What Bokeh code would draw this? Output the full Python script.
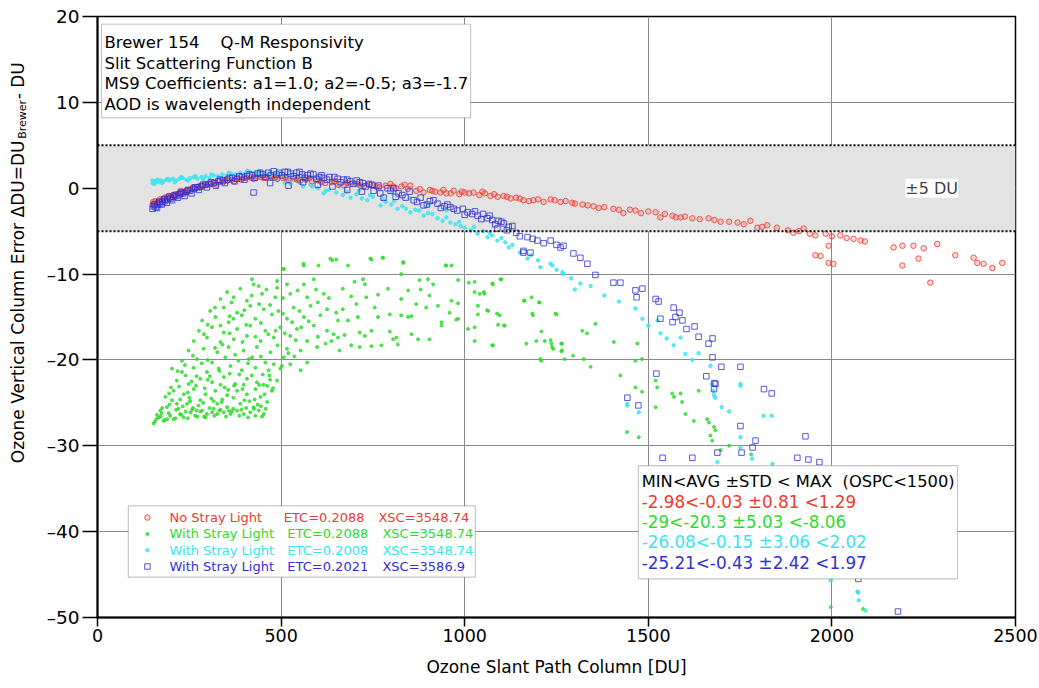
import math
from bokeh.plotting import figure
from bokeh.layouts import row
from bokeh.models import Range1d, BoxAnnotation, Label, Span, FixedTicker
from bokeh.embed import file_html
from bokeh.resources import INLINE

# ---- axis ticks ----
x_ticks = [0, 500, 1000, 1500, 2000, 2500]
y_ticks = [-50, -40, -30, -20, -10, 0, 10, 20]
band_half_width = 5  # +/- 5 DU tolerance band

# ---- series: No Stray Light (ETC=0.2088, XSC=3548.74) ----
red_x = [150, 152, 158, 163, 170, 176, 183, 190, 197, 205, 213, 221, 230, 238, 247, 256, 265, 275, 285, 296,
         307, 318, 330, 342, 354, 366, 379, 392, 405, 418, 432, 446, 460, 475, 490, 505, 520, 536, 552, 568,
         585, 602, 620, 638, 656, 672, 690, 708, 725, 740, 752, 768, 785, 798, 812, 828, 845, 852, 868, 888,
         905, 920, 934, 950, 970, 985, 1000, 1024, 1040, 1055, 1070, 1090, 1106, 1125, 1140,
         155, 167, 180, 194, 209, 226, 243, 260, 280, 300, 324, 348, 372, 398, 425, 453, 482, 512, 544, 577,
         610, 646, 680, 716, 760, 805, 836, 878, 912, 942, 962, 992, 1012, 1048, 1080, 1115, 1150,
         1160, 1175, 1187, 1200, 1215, 1234, 1245, 1261, 1275, 1293, 1300, 1321, 1335, 1351, 1365, 1380,
         1405, 1420, 1432, 1450, 1465, 1480, 1500, 1520, 1533, 1545, 1566, 1575, 1588, 1600, 1620, 1640,
         1664, 1680, 1697, 1720, 1743, 1760, 1778, 1797, 1810, 1824, 1850, 1880, 1895, 1910, 1923, 1940,
         1955, 1955, 1969, 1983, 1991, 1991, 2000, 2004, 2023, 2040, 2059, 2078, 2090, 2168, 2192, 2192,
         2222, 2236, 2250, 2268, 2287, 2336, 2386, 2396, 2413, 2437, 2464]
red_y = [-1.9, -1.6, -1.5, -1.7, -1.3, -1.4, -1.1, -1.0, -1.2, -0.8, -0.7, -0.6, -0.4, -0.5, -0.2, -0.1, 0.0, 0.2, 0.3, 0.4,
         0.5, 0.6, 0.8, 0.7, 0.9, 1.0, 1.1, 1.0, 1.2, 1.25, 1.2, 1.29, 1.2, 1.25, 1.1, 1.2, 1.0, 1.1, 0.9, 1.0,
         0.8, 0.9, 0.6, 0.7, 0.4, 0.3, 0.5, 0.5, 0.2, 0.4, 0.3, 0.1, 0.3, 0.5, 0.0, 0.2, -0.1, 0.3, -0.3, -0.5,
         -0.2, -0.4, -0.5, -0.6, -0.3, -0.7, -0.5, -0.5, -0.8, -0.6, -0.9, -1.0, -0.9, -1.2, -1.1,
         -1.8, -1.5, -1.2, -0.9, -0.9, -0.3, -0.3, 0.1, 0.1, 0.5, 0.4, 0.9, 0.8, 1.2, 1.1, 1.2, 1.2, 1.25, 1.0, 1.15,
         0.7, 0.8, 0.6, 0.3, 0.2, 0.2, 0.4, -0.1, -0.3, -0.2, -0.6, -0.4, -0.6, -0.4, -0.7, -1.0, -1.2,
         -1.4, -1.5, -1.4, -1.3, -1.6, -1.3, -1.4, -1.6, -1.5, -1.7, -1.8, -1.9, -2.0, -2.1, -2.3, -2.2,
         -2.4, -2.5, -2.9, -2.5, -2.6, -2.9, -2.7, -2.8, -3.4, -3.0, -3.2, -3.4, -3.4, -3.3, -3.5, -3.6,
         -3.5, -3.7, -3.9, -3.9, -4.0, -4.2, -3.8, -4.6, -4.5, -4.3, -4.6, -4.9, -5.2, -5.0, -4.7, -5.3,
         -5.5, -7.8, -7.9, -5.3, -6.7, -8.7, -5.6, -8.8, -5.5, -5.8, -5.9, -6.1, -6.2, -6.9, -6.7, -9.0,
         -6.7, -8.2, -7.0, -11.0, -6.5, -7.8, -8.1, -8.7, -8.8, -9.3, -8.7]

# ---- series: With Stray Light (ETC=0.2088, XSC=3548.74) ----
green_x = [153, 167, 180, 198, 207, 225, 235, 253, 266, 285, 298, 312, 326, 344, 362, 380, 398, 416, 439, 453,
           171, 189, 216, 185, 203, 244, 275, 326, 353, 389, 425, 462, 207, 235, 262, 294, 321, 353, 380, 407,
           444, 475, 216, 248, 280, 312, 344, 375, 407, 434, 462, 489, 203, 230, 262, 298, 330, 362, 393, 430,
           466, 498, 525, 553, 230, 271, 312, 348, 384, 421, 457, 507, 571, 248, 289, 326, 357, 398, 434, 471,
           516, 553, 598, 262, 298, 335, 371, 407, 444, 480, 525, 571, 621, 643, 276, 312, 344, 380, 416, 457,
           498, 543, 589, 625, 285, 321, 357, 393, 430, 475, 516, 562, 607, 307, 344, 380, 416, 453, 493, 534,
           580, 625, 335, 371, 407, 448, 484, 525, 571, 616, 353, 389, 425, 439, 489, 516, 562, 589, 421, 489,
           507, 562, 602, 639,
           160, 175, 190, 220, 240, 260, 290, 305, 335, 370, 405, 430, 445, 195, 225, 250, 280, 310, 340, 370,
           400, 430, 455, 470, 240, 270, 300, 335, 360, 395, 420, 450, 480, 520, 260, 300, 340, 375, 410, 445,
           490, 540, 290, 320, 360, 395, 430, 465, 510, 555, 600, 300, 335, 370, 405, 445, 485, 530, 575, 320,
           360, 400, 440, 470, 505, 550, 600, 365, 420, 460, 505, 545, 595, 630,
           156, 162, 172, 183, 194, 212, 228, 246, 258, 272, 280, 294, 318, 332, 350, 366, 386, 410, 426, 448,
           176, 196, 214, 232, 252, 270, 288, 316, 338, 358, 392, 414, 436, 458, 200, 222, 246, 268, 292, 316,
           346, 372, 398, 428, 452, 478, 218, 238, 256, 284, 306, 332, 356, 386, 412, 440, 468, 502, 536,
           650, 682, 746, 778, 832, 950, 964, 700, 728, 668, 723, 791, 827, 877, 900, 914, 982, 1011, 1027, 1100,
           1077, 691, 732, 764, 846, 880, 904, 1027, 1041, 1054, 650, 668, 705, 755, 827, 868, 895, 927, 964, 982,
           959, 1036, 1064, 1163, 1182, 1204, 655, 682, 709, 764, 796, 827, 846, 855, 937, 982, 1036, 1095, 1186,
           1250, 637, 655, 673, 714, 728, 746, 796, 814, 855, 873, 904, 937, 977, 1009, 1027, 1091, 1109, 1209,
           691, 714, 746, 773, 805, 818, 659, 1027, 1077, 1168, 1195, 1218, 1236, 1263, 1241, 1263, 1295, 1209,
           1272, 507, 561, 634, 743, 776, 833, 948,
           1052, 1075, 1097, 1061, 1088, 1107, 1075, 1161, 1184, 1202, 1247, 1234, 1238, 1265, 1265, 1206, 1320,
           1333, 1324, 1343, 1356, 1406, 1424, 1470, 1465, 1483, 1465, 1483, 1442, 1474, 1520, 1524, 1520, 1565,
           1588, 1570, 1592, 1601, 1624, 1637, 1660, 1665, 1679, 1683, 1669, 1674, 1697, 1720, 1750, 1780, 1820,
           1850, 1900, 1960, 1997, 2040, 2070, 2085]
green_y = [-27.4, -26.7, -27.1, -26.5, -26.9, -26.3, -26.7, -26.1, -26.5, -25.9, -26.3, -26.1, -26.3, -26.1, -26.3, -25.9, -26.3, -26.1, -25.9, -26.3,
           -25.9, -25.5, -25.1, -24.3, -24.7, -25.1, -25.3, -25.1, -25.5, -25.1, -25.5, -24.9, -23.6, -24.0, -23.4, -24.0, -23.6, -24.1, -23.6, -24.0,
           -24.3, -23.6, -22.4, -22.8, -22.2, -22.6, -22.0, -22.8, -22.2, -22.6, -23.0, -22.4, -21.0, -21.4, -20.9, -21.4, -21.0, -20.7, -21.2, -20.9,
           -21.2, -21.0, -20.5, -21.2, -20.1, -19.9, -20.3, -19.7, -20.1, -19.7, -20.3, -19.7, -20.3, -18.9, -18.7, -19.1, -18.5, -18.9, -18.5, -19.1,
           -18.7, -18.9, -18.5, -17.8, -17.4, -17.9, -17.6, -17.2, -17.8, -17.4, -17.2, -17.8, -18.1, -17.0, -16.6, -16.2, -16.8, -16.4, -16.0, -16.6,
           -16.2, -16.4, -16.0, -16.6, -15.4, -15.0, -15.6, -14.8, -15.2, -14.7, -15.2, -15.0, -14.8, -14.3, -13.9, -14.5, -13.7, -14.1, -14.3, -13.9,
           -13.7, -14.1, -12.9, -12.7, -13.1, -12.3, -12.7, -12.3, -12.7, -12.3, -12.1, -11.7, -11.2, -11.4, -11.6, -11.2, -11.2, -10.6, -10.6, -10.8,
           -9.4, -9.0, -9.0, -8.4,
           -26.9, -26.2, -26.9, -25.7, -26.0, -25.6, -26.6, -25.6, -25.8, -25.7, -25.6, -26.5, -25.4, -23.9, -24.6, -24.4, -24.7, -24.5, -24.6, -24.4,
           -24.7, -23.4, -24.0, -22.3, -21.8, -21.9, -22.3, -22.9, -21.6, -23.4, -21.8, -21.7, -20.5, -19.2, -19.5, -20.0, -18.2, -19.4, -20.4, -19.6,
           -18.3, -17.7, -17.0, -18.6, -16.9, -17.9, -17.3, -17.0, -16.9, -16.2, -17.3, -15.9, -16.0, -15.2, -15.9, -15.7, -16.6, -15.6, -15.5, -13.9,
           -14.9, -14.2, -13.5, -13.6, -14.6, -14.3, -13.3, -13.3, -12.5, -11.8, -12.8, -11.9, -11.8, -12.8,
           -27.2, -26.4, -26.6, -27.0, -26.2, -26.8, -26.4, -26.8, -25.8, -26.6, -26.0, -26.7, -26.5, -25.9, -26.6, -26.0, -26.5, -26.7, -25.7, -26.6,
           -25.6, -25.2, -25.8, -25.4, -24.8, -25.9, -25.0, -25.7, -24.9, -25.9, -25.8, -24.8, -25.2, -25.7, -23.2, -23.1, -23.8, -23.0, -23.3, -24.8,
           -23.2, -23.0, -22.9, -24.6, -22.9, -23.3, -21.3, -20.6, -22.5, -20.4, -21.9, -21.3, -23.5, -21.7, -19.9, -22.9, -21.8, -20.7, -19.6,
           -8.3, -9.0, -8.3, -8.1, -8.6, -9.0, -9.0, -10.9, -11.2, -11.7, -10.6, -11.7, -10.0, -10.7, -10.6, -11.2, -10.7, -11.0, -10.9, -10.6,
           -11.2, -12.6, -12.7, -12.4, -11.9, -11.8, -12.5, -12.1, -12.3, -12.3, -14.5, -14.1, -13.5, -13.9, -12.9, -13.5, -13.9, -13.7, -13.1, -13.4,
           -14.5, -13.7, -14.3, -13.1, -12.7, -13.3, -15.4, -15.4, -15.0, -15.0, -14.7, -14.8, -15.0, -14.9, -15.6, -15.2, -14.7, -14.8, -14.8,
           -14.7, -17.8, -17.4, -17.1, -16.8, -17.2, -16.6, -16.7, -17.4, -17.0, -17.6, -17.6, -16.0, -15.3, -16.4, -16.2, -15.9, -16.0, -16.7,
           -18.3, -18.5, -18.4, -18.3, -17.6, -18.2, -18.9, -17.8, -18.3, -18.1, -17.8, -17.8, -18.1, -18.1, -18.7, -19.0, -19.5, -20.1,
           -19.9, -9.4, -8.8, -8.2, -8.2, -8.1, -8.7, -9.0,
           -12.1, -11.1, -10.6, -14.2, -14.6, -16.0, -18.3, -13.1, -14.6, -13.3, -14.6, -17.7, -18.5, -18.1, -18.9, -19.9, -16.6,
           -16.9, -19.9, -20.8, -15.8, -17.9, -21.8, -18.1, -20.1, -19.9, -23.2, -23.7, -28.4, -29.0, -22.4, -23.2, -25.5, -23.9,
           -23.9, -24.3, -24.9, -26.3, -27.1, -23.6, -26.9, -27.3, -27.8, -28.2, -28.8, -29.4, -30.5, -30.0, -33.0, -31.0, -33.0,
           -37.0, -40.0, -42.0, -48.8, -45.0, -47.0, -49.0]

# ---- series: With Stray Light (ETC=0.2008, XSC=3548.74) ----
cyan_x = [150, 150, 158, 165, 172, 180, 188, 196, 205, 214, 223, 232, 242, 252, 262, 272, 283, 294, 305, 316,
          328, 340, 352, 364, 376, 389, 402, 415, 428, 442, 456, 470, 485, 500, 515, 530, 545, 560, 575, 590,
          470, 490, 510, 526, 545, 560, 580, 600, 616, 630, 650, 668, 689, 705, 720, 735, 750, 771, 785, 800,
          817, 830, 852, 865, 888, 900, 926, 940, 961, 975, 989, 1000, 1016, 1035, 1050, 1062, 1075, 1089, 1110, 1130,
          640, 700, 760, 800, 850, 900, 950,
          155, 163, 176, 192, 210, 228, 247, 267, 288, 310, 334, 358, 382, 408, 435, 462, 478, 495, 520, 538,
          552, 568, 585, 608, 622, 658, 678, 712, 742, 778, 808, 840, 875, 912, 950, 985, 1025, 1068, 1100, 1120,
          1150, 1171, 1180, 1200, 1206, 1234, 1239, 1250, 1266, 1269, 1290, 1300, 1315, 1343, 1380, 1420, 1465, 1484,
          1500, 1525, 1533, 1550, 1569, 1588, 1601, 1620, 1637, 1669, 1674, 1677, 1679, 1683, 1700, 1720, 1751, 1751,
          1443, 1474, 1443, 1751, 1814, 1836, 1751, 1783, 1688, 1838, 1997, 2070, 2073, 2072, 2092]
cyan_y = [0.6, 0.9, 0.8, 0.7, 0.9, 0.8, 1.0, 0.9, 1.1, 0.9, 1.1, 1.2, 1.0, 1.2, 1.3, 1.1, 1.3, 1.4, 1.2, 1.5,
          1.4, 1.6, 1.5, 1.7, 1.6, 1.8, 1.7, 1.9, 1.8, 2.0, 1.8, 1.9, 1.7, 1.8, 1.5, 1.6, 1.3, 1.4, 1.1, 1.2,
          1.2, 0.9, 0.6, 0.5, 0.8, 0.2, 0.4, 0.0, -0.6, -0.2, -0.5, -0.8, -1.1, -0.7, -1.2, -1.4, -1.0, -2.0, -1.6, -1.9,
          -2.4, -2.1, -2.8, -2.5, -3.2, -2.9, -3.5, -3.8, -4.0, -4.2, -4.4, -4.6, -4.9, -5.3, -5.0, -5.7, -5.5, -6.1, -6.3, -6.6,
          0.8, 0.5, 0.0, -0.5, -1.2, -2.0, -2.6,
          0.5, 1.0, 0.6, 1.1, 0.7, 1.3, 0.9, 1.4, 1.0, 1.6, 1.2, 1.8, 1.4, 2.02, 1.6, 1.5, 1.2, 1.4, 1.0, 1.2,
          0.6, 0.9, 0.2, 0.6, -0.3, 0.2, -0.4, -0.3, -0.8, -1.3, -1.5, -2.4, -2.6, -3.0, -3.4, -3.9, -4.5, -5.2, -5.8, -6.9,
          -7.5, -8.2, -7.8, -8.4, -9.2, -8.8, -9.0, -9.5, -9.8, -10.0, -10.5, -11.8, -11.1, -11.4, -12.5, -13.2, -14.0, -15.2,
          -16.0, -15.4, -16.9, -17.5, -18.3, -17.4, -19.3, -20.0, -19.2, -20.7, -22.8, -23.6, -24.1, -24.4, -25.5, -26.0, -22.8, -23.0,
          -25.1, -26.1, -25.3, -29.0, -26.5, -26.5, -30.2, -31.5, -31.9, -32.1, -45.7, -47.0, -48.0, -47.1, -49.2]

# ---- series: With Stray Light (ETC=0.2021, XSC=3586.9) ----
blue_x = [150, 153, 158, 164, 170, 177, 184, 191, 199, 207, 215, 224, 233, 242, 252, 262, 272, 283, 294, 305,
          317, 329, 341, 354, 367, 380, 393, 407, 421, 436, 450, 465, 480, 495, 510, 526, 542, 558, 572, 588,
          604, 616, 632, 654, 670, 688, 706, 722, 740, 752, 765, 779, 790, 806, 820, 839, 850, 861, 880, 888,
          905, 926, 945, 961, 980, 995, 1008, 1020, 1035, 1050, 1062, 1075, 1089, 1092, 1106, 1120, 1140, 1171,
          155, 162, 168, 175, 182, 189, 196, 203, 211, 219, 228, 237, 246, 256, 266, 276, 287, 298, 310, 322,
          334, 347, 360, 373, 386, 400, 414, 428, 443, 457, 472, 487, 502, 518, 534, 550, 565, 580, 596, 610,
          625, 645, 662, 680, 697, 714, 730, 748, 770, 798, 812, 830, 870, 897, 915, 935, 953, 970, 1000, 1028,
          1045, 1068, 1083, 1100, 1115, 1130, 1150, 1185, 1215, 1250,
          1198, 1234, 1261, 1269, 1296, 1160, 1179, 1160, 1315, 1334, 1356, 1405, 1424, 1465, 1484, 1468, 1520,
          1528, 1533, 1569, 1566, 1585, 1593, 1574, 1604, 1626, 1637, 1664, 1675, 1675, 1699, 1751, 1522, 1658,
          1680, 1683, 1679, 1443, 1473, 1815, 1836, 1751, 1928, 1792, 1784, 1688, 1754, 1539, 1620, 1906, 1936,
          1966, 2072, 2180,
          425, 470, 520, 560, 600, 640, 680, 720]
blue_y = [-2.4, -2.1, -2.2, -1.9, -1.8, -1.6, -1.5, -1.3, -1.2, -1.0, -0.9, -0.7, -0.6, -0.4, -0.3, -0.1, 0.1, 0.2, 0.4, 0.5,
          0.6, 0.8, 0.9, 1.0, 1.2, 1.1, 1.3, 1.4, 1.5, 1.7, 1.6, 1.8, 1.97, 1.8, 1.9, 1.7, 1.8, 1.6, 1.5, 1.6,
          1.3, 1.2, 1.3, 1.1, 1.0, 0.8, 0.9, 0.6, 0.5, -0.3, 0.3, -1.1, 0.0, 0.0, -0.6, -1.1, -0.4, -1.4, -1.1, -2.0,
          -1.5, -1.8, -2.1, -2.2, -2.6, -2.4, -2.8, -3.0, -3.2, -3.0, -3.5, -3.7, -4.7, -3.8, -4.1, -4.5, -5.2, -5.7,
          -1.9, -2.3, -1.6, -1.9, -1.3, -1.7, -1.0, -1.4, -0.8, -1.1, -0.5, -0.9, -0.2, -0.6, 0.1, -0.2, 0.4, 0.1, 0.7, 0.3,
          1.0, 0.6, 1.2, 0.8, 1.4, 1.0, 1.6, 1.2, 1.8, 1.3, 1.5, 1.6, 1.5, 1.9, 1.4, 1.9, 1.2, 1.7, 1.1, 1.5,
          1.0, 1.3, 0.7, 1.0, 0.5, 0.7, 0.2, 0.4, -0.6, -0.3, -1.0, -0.8, -1.6, -1.9, -1.4, -2.3, -1.9, -2.4, -3.1, -2.7,
          -3.6, -3.2, -4.2, -3.9, -4.9, -4.4, -5.6, -5.9, -6.4, -6.6,
          -6.1, -6.1, -6.9, -6.7, -7.6, -7.3, -7.5, -7.5, -8.1, -8.8, -10.1, -11.0, -11.0, -11.9, -11.7, -12.7, -12.9,
          -13.2, -15.2, -13.9, -15.6, -14.5, -15.4, -15.0, -16.4, -16.1, -17.3, -18.1, -17.5, -19.7, -20.8, -20.8, -21.6, -21.9,
          -22.7, -22.8, -23.4, -24.4, -25.3, -23.4, -23.9, -27.7, -28.9, -29.4, -30.2, -30.8, -30.8, -31.4, -31.4, -31.4, -31.6,
          -31.9, -45.5, -49.3,
          -0.5, 0.6, 0.3, 0.7, 0.4, 0.2, -0.2, -0.4]

# ---- legend and statistics texts ----
NB = "\u00a0"
legend_names = ["No Stray Light", "With Stray Light", "With Stray Light", "With Stray Light"]
legend_etc = ["ETC=0.2088", "ETC=0.2088", "ETC=0.2008", "ETC=0.2021"]
legend_xsc = ["XSC=3548.74", "XSC=3548.74", "XSC=3548.74", "XSC=3586.9"]
stats_header = "MIN<AVG \u00b1STD < MAX" + NB * 2 + "(OSPC<1500)"
stats_lines = ["-2.98<-0.03 \u00b10.81 <1.29",
               "-29<-20.3 \u00b15.03 <-8.06",
               "-26.08<-0.15 \u00b13.06 <2.02",
               "-25.21<-0.43 \u00b12.42 <1.97"]
info_lines = ["Brewer 154" + NB * 4 + "Q-M Responsivity",
              "Slit Scattering Function B",
              "MS9 Coefficients: a1=1.0; a2=-0.5; a3=-1.7",
              "AOD is wavelength independent"]
y_title = ["Ozone Vertical Column Error \u0394DU=DU", "Brewer", NB + "-" + NB + "DU"]
x_title = "Ozone Slant Path Column [DU]"

RED = "#ee3a30"
GREEN = "#2bdc2b"
CYAN = "#38e4f0"
BLUE = "#3030d4"
series_colors = [RED, GREEN, CYAN, BLUE]

FONT = "DejaVu Sans"

p = figure(width=999, height=688, x_range=Range1d(0, 2500), y_range=Range1d(-50, 20),
           output_backend="svg", toolbar_location=None,
           min_border_left=57, min_border_right=24, min_border_top=16, min_border_bottom=71)
p.background_fill_color = "white"
p.border_fill_color = "white"
p.outline_line_color = "black"
p.outline_line_width = 1.5

# axes
p.xaxis.ticker = FixedTicker(ticks=x_ticks)
p.yaxis.ticker = FixedTicker(ticks=y_ticks)
p.yaxis.major_label_overrides = {v: str(v).replace("-", "\u2013") for v in y_ticks}
for ax in (p.xaxis[0], p.yaxis[0]):
    ax.axis_line_width = 2
    ax.axis_line_color = "black"
    ax.major_tick_in = 0
    ax.minor_tick_line_color = None
    ax.major_tick_line_color = "black"
    ax.major_tick_line_width = 1.5
    ax.major_label_text_color = "black"
    ax.major_label_text_font = FONT
p.xaxis.major_tick_out = 9
p.xaxis.major_label_standoff = 2
p.xaxis.major_label_text_font_size = "17.5px"
p.xaxis.axis_label = x_title
p.xaxis.axis_label_text_font = FONT
p.xaxis.axis_label_text_font_style = "normal"
p.xaxis.axis_label_text_font_size = "17px"
p.xaxis.axis_label_text_color = "black"
p.xaxis.axis_label_standoff = 12
p.yaxis.major_tick_out = 15
p.yaxis.major_label_standoff = 3
p.yaxis.major_label_text_font_size = "18.5px"

p.grid.grid_line_color = "#8a8a8a"
p.grid.grid_line_width = 1

# +/- 5 DU band
p.quad(left=[x_ticks[0]], right=[x_ticks[-1]], bottom=[-band_half_width], top=[band_half_width],
       fill_color="#e3e3e3", line_color=None)
for loc in (band_half_width, -band_half_width):
    p.add_layout(Span(location=loc, dimension="width", line_color="black",
                      line_width=2, line_dash="2 2"))

# scatter series
p.scatter(green_x, green_y, marker="circle", size=3, color=GREEN, alpha=0.8)
p.scatter(cyan_x, cyan_y, marker="circle", size=3.5, color=CYAN, alpha=0.8)
p.scatter(red_x, red_y, marker="circle", size=5.5, line_color=RED, fill_color=RED,
          fill_alpha=0.2, line_alpha=0.8)
p.scatter(blue_x, blue_y, marker="square", size=5.5, line_color=BLUE, fill_color=None, line_alpha=0.8)

p.add_layout(Label(x=2200, y=0, text="\u00b15 DU", text_font=FONT, text_font_size="16px",
                   text_baseline="middle", background_fill_color="white"))

# info box
p.add_layout(BoxAnnotation(left=11, right=1016, top=19.1, bottom=8.2, fill_color="white",
                           fill_alpha=1, line_color="#444444", line_width=1.2))
for i, t in enumerate(info_lines):
    p.add_layout(Label(x=19, y=16.97 - i * 2.41, text=t, text_font=FONT, text_font_size="16.5px",
                       text_baseline="middle", text_color="black"))

# legend box
p.add_layout(BoxAnnotation(left=84, right=1029, top=-37.0, bottom=-45.3, fill_color="white",
                           fill_alpha=1, line_color="#444444", line_width=1.2))
row_y = [-38.36 - i * 1.9 for i in range(4)]
marker_x = 136
p.scatter([marker_x], [row_y[0]], marker="circle", size=5.5, line_color=RED, fill_color=RED,
          fill_alpha=0.2, line_alpha=0.8, level="overlay")
p.scatter([marker_x], [row_y[1]], marker="circle", size=3, color=GREEN, alpha=0.8, level="overlay")
p.scatter([marker_x], [row_y[2]], marker="circle", size=3.5, color=CYAN, alpha=0.8, level="overlay")
p.scatter([marker_x], [row_y[3]], marker="square", size=5.5, line_color=BLUE, fill_color=None,
          line_alpha=0.8, level="overlay")
etc_x = [507, 517, 517, 517]
xsc_x = [765, 776, 776, 776]
for i in range(4):
    for xx, t in ((196, legend_names[i]), (etc_x[i], legend_etc[i]), (xsc_x[i], legend_xsc[i])):
        p.add_layout(Label(x=xx, y=row_y[i], text=t, text_font=FONT, text_font_size="13px",
                           text_baseline="middle", text_color=series_colors[i]))

# statistics box
p.add_layout(BoxAnnotation(left=1473, right=2342, top=-32.3, bottom=-45.5, fill_color="white",
                           fill_alpha=1, line_color="#444444", line_width=1.2))
p.add_layout(Label(x=1482, y=-34.2, text=stats_header, text_font=FONT, text_font_size="16.3px",
                   text_baseline="middle", text_color="black"))
for i, t in enumerate(stats_lines):
    p.add_layout(Label(x=1482, y=-36.5 - i * 2.37, text=t, text_font=FONT, text_font_size="16.8px",
                       text_baseline="middle", text_color=series_colors[i]))

# y-axis title (with subscript) in a narrow strip left of the plot
tf = figure(width=40, height=688, x_range=Range1d(0, 40), y_range=Range1d(0, 688),
            output_backend="svg", toolbar_location=None, min_border=0,
            x_axis_type=None, y_axis_type=None)
tf.outline_line_color = None
tf.grid.visible = False
tf.background_fill_color = "white"
tf.border_fill_color = "white"
sub_start = 548
tf.add_layout(Label(x=17, y=sub_start - 2, text=y_title[0], angle=math.pi / 2, text_align="right",
                    text_font=FONT, text_font_size="17px", text_baseline="middle", text_color="black"))
tf.add_layout(Label(x=22, y=sub_start, text=y_title[1], angle=math.pi / 2, text_font=FONT,
                    text_font_size="11px", text_baseline="middle", text_color="black"))
tf.add_layout(Label(x=17, y=sub_start + 39, text=y_title[2], angle=math.pi / 2, text_font=FONT,
                    text_font_size="17px", text_baseline="middle", text_color="black"))

layout = row(tf, p, spacing=0)
open("out.html", "w").write(file_html(layout, INLINE))
